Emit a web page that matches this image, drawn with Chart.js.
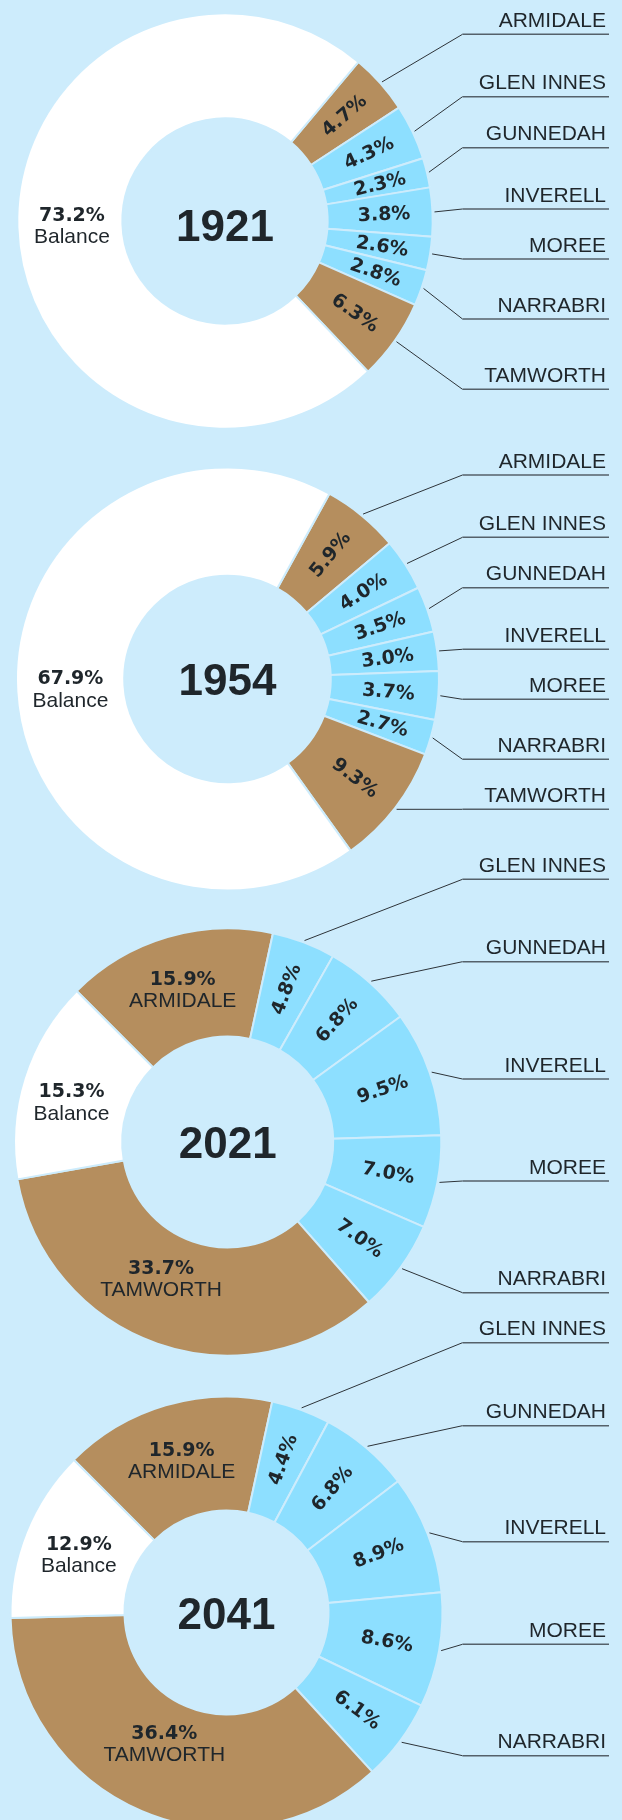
<!DOCTYPE html>
<html><head><meta charset="utf-8">
<script src="https://cdn.jsdelivr.net/npm/chart.js@4.4.1/dist/chart.umd.min.js"></script>
<style>
html,body{margin:0;padding:0;background:#cdecfc;width:622px;height:1820px;overflow:hidden;position:relative}
canvas{position:absolute;left:0}
</style></head><body>
<script>
// ---- DATA ----
const categories = ['ARMIDALE','GLEN INNES','GUNNEDAH','INVERELL','MOREE','NARRABRI','TAMWORTH','Balance'];
const years = ['1921','1954','2021','2041'];
const values1921 = [4.7, 4.3, 2.3, 3.8, 2.6, 2.8, 6.3, 73.2];
const values1954 = [5.9, 4.0, 3.5, 3.0, 3.7, 2.7, 9.3, 67.9];
const values2021 = [15.9, 4.8, 6.8, 9.5, 7.0, 7.0, 33.7, 15.3];
const values2041 = [15.9, 4.4, 6.8, 8.9, 8.6, 6.1, 36.4, 12.9];
const seriesByYear = [values1921, values1954, values2021, values2041];

// ---- STYLE / LAYOUT ----
const BG = '#cdecfc';
const TAN = '#b58e5e';
const BLUE = '#8ddfff';
const WHITE = '#ffffff';
const TEXT = '#1f262b';
const sliceColors = [TAN, BLUE, BLUE, BLUE, BLUE, BLUE, TAN, WHITE];
const INSIDE_THRESHOLD = 10; // slices above this carry their name inside
// per-chart geometry, callout label offsets (relative to centre; null = labelled inside)
// and small nudges for inside labels
const layouts = [
  {cx:225, cy:221, R:206.7, r:111.7, rotation:40, yearDy:20,
   callout:[-186.7,-124.3,-73.3,-12,38,98,168.3,null], nudge:{7:[2,-1]}},
  {cx:227.5, cy:679, R:210.5, r:111.6, rotation:28.8, yearDy:16,
   callout:[-204,-141.7,-91.3,-29.7,20.3,80.3,130.3,null], nudge:{}},
  {cx:227.7, cy:1142, R:212.6, r:113, rotation:-45, yearDy:16,
   callout:[null,-262.7,-180.3,-63,39,150.7,null,null], nudge:{6:[-14,-15], 7:[-4,7]}},
  {cx:226.5, cy:1612.5, R:215, r:107.5, rotation:-45, yearDy:16.5,
   callout:[null,-269.8,-186.8,-70.8,31.8,143.2,null,null], nudge:{6:[0,-16]}}
];
const CANVAS_H = 600;
const ELBOW_X = 462.5, LINE_END_X = 609, TEXT_RIGHT_X = 606;

const labelPlugin = {
  id: 'sliceLabels',
  afterDatasetsDraw(chart, args, opts) {
    const ctx = chart.ctx;
    const L = opts.layout;
    const meta = chart.getDatasetMeta(0);
    const data = chart.data.datasets[0].data;
    ctx.save();
    meta.data.forEach((arc, i) => {
      const p = arc.getProps(['x','y','startAngle','endAngle','innerRadius','outerRadius'], true);
      const mid = (p.startAngle + p.endAngle) / 2;
      const v = data[i];
      const pct = v.toFixed(1) + '%';
      const name = chart.data.labels[i];
      const inside = (i === data.length - 1) || v > INSIDE_THRESHOLD;
      ctx.fillStyle = TEXT;
      if (inside) {
        const rr = (p.innerRadius + p.outerRadius) / 2;
        const n = L.nudge[i] || [0, 0];
        const px = p.x + Math.cos(mid) * rr + n[0];
        const py = p.y + Math.sin(mid) * rr + n[1];
        ctx.textAlign = 'center';
        ctx.textBaseline = 'alphabetic';
        ctx.font = 'bold 19px "DejaVu Sans"';
        ctx.fillText(pct, px, py - 4);
        ctx.font = '21px "Liberation Sans"';
        ctx.fillText(name, px, py + 18.5);
      } else {
        const rr = (p.innerRadius + p.outerRadius) / 2 + 4;
        ctx.save();
        ctx.translate(p.x + Math.cos(mid) * rr, p.y + Math.sin(mid) * rr);
        ctx.rotate(mid);
        ctx.textAlign = 'center';
        ctx.textBaseline = 'middle';
        ctx.font = 'bold 19px "DejaVu Sans"';
        ctx.fillText(pct, 0, 1);
        ctx.restore();
        const dy = L.callout[i];
        if (dy !== null && dy !== undefined) {
          const ly = p.y + dy;
          const ar = p.outerRadius + 2;
          const ax = p.x + Math.cos(mid) * ar;
          const ay = p.y + Math.sin(mid) * ar;
          ctx.strokeStyle = '#2d3338';
          ctx.lineWidth = 1;
          ctx.beginPath();
          ctx.moveTo(ax, ay);
          ctx.lineTo(ELBOW_X, ly);
          ctx.stroke();
          ctx.strokeStyle = '#55616a';
          ctx.lineWidth = 1.5;
          ctx.beginPath();
          ctx.moveTo(ELBOW_X, ly);
          ctx.lineTo(LINE_END_X, ly);
          ctx.stroke();
          ctx.fillStyle = TEXT;
          ctx.textAlign = 'right';
          ctx.textBaseline = 'alphabetic';
          ctx.font = '21px "Liberation Sans"';
          ctx.fillText(name, TEXT_RIGHT_X, ly - 7.5);
        }
      }
    });
    // year in the centre
    const c = meta.data[0];
    ctx.fillStyle = TEXT;
    ctx.textAlign = 'center';
    ctx.textBaseline = 'alphabetic';
    ctx.font = 'bold 44px "Liberation Sans"';
    ctx.fillText(opts.year, c.x, c.y + L.yearDy);
    ctx.restore();
  }
};

years.forEach((year, k) => {
  const L = layouts[k];
  const top = Math.round(L.cy - CANVAS_H / 2);
  const localCy = L.cy - top;
  const cv = document.createElement('canvas');
  cv.width = 622; cv.height = CANVAS_H;
  cv.style.top = top + 'px';
  document.body.appendChild(cv);
  new Chart(cv, {
    type: 'doughnut',
    data: {
      labels: categories,
      datasets: [{
        data: seriesByYear[k],
        backgroundColor: sliceColors,
        borderColor: BG,
        borderWidth: 2,
        hoverOffset: 0
      }]
    },
    options: {
      responsive: false,
      animation: false,
      devicePixelRatio: 1,
      events: [],
      rotation: L.rotation,
      radius: L.R + 1,
      cutout: L.r - 1,
      layout: {padding: {left: 0, right: 622 - 2 * L.cx, top: 0, bottom: CANVAS_H - 2 * localCy}},
      plugins: {
        legend: {display: false},
        tooltip: {enabled: false},
        sliceLabels: {layout: L, year: year}
      }
    },
    plugins: [labelPlugin]
  });
});
</script>
</body></html>
